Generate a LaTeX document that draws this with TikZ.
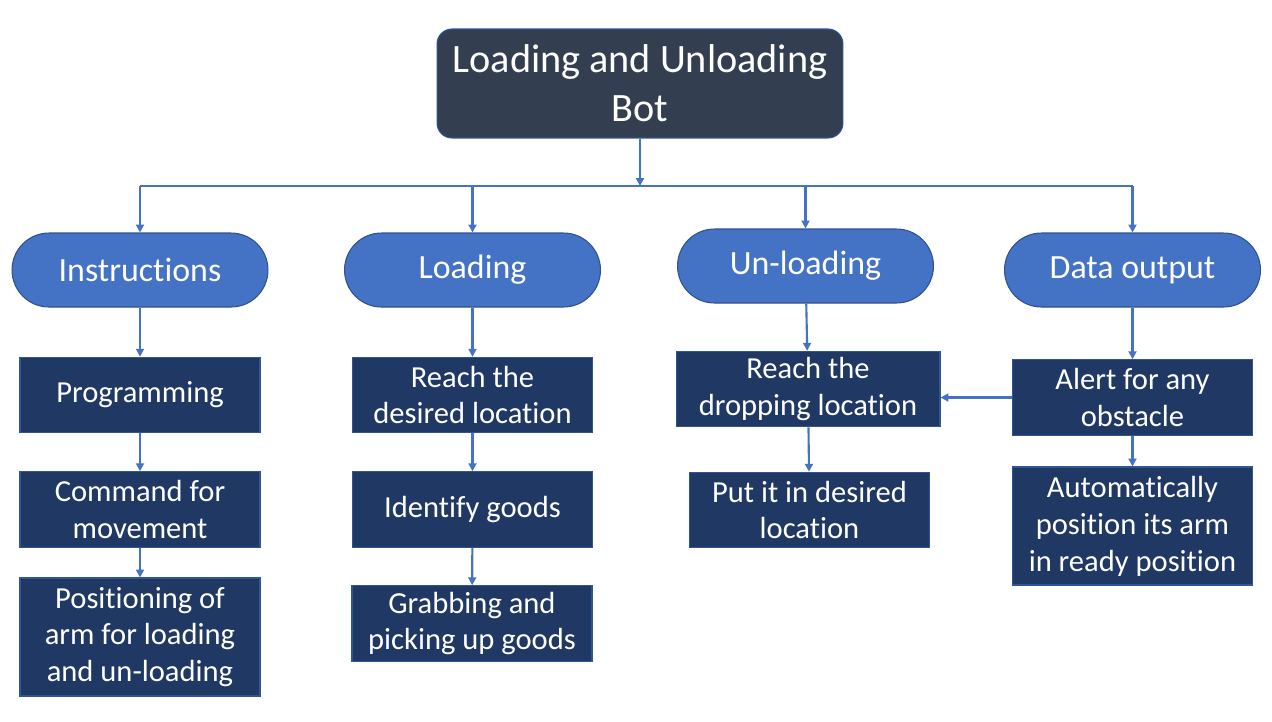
\documentclass[tikz,border=0pt]{standalone}
\usepackage{fontspec}
\setmainfont{Carlito}[Ligatures=NoCommon]
\usetikzlibrary{arrows.meta,positioning}

\definecolor{botfill}{HTML}{333F50}
\definecolor{pillfill}{HTML}{4472C4}
\definecolor{edgeblue}{HTML}{2F528F}
\definecolor{boxfill}{HTML}{203864}
\definecolor{boxedge}{HTML}{2F5597}
\definecolor{linkblue}{HTML}{4472C4}

\begin{document}
\begin{tikzpicture}[x=0.02cm,y=-0.02cm,
    topbox/.style={draw=edgeblue,line width=0.6pt,fill=botfill,rounded corners=0.3cm,
      text=white,align=center,minimum width=8.12cm,minimum height=2.18cm,
      font=\fontsize{22.9}{28}\selectfont},
    pill/.style={draw=edgeblue,line width=0.6pt,fill=pillfill,rounded corners=0.74cm,
      text=white,align=center,minimum width=5.12cm,minimum height=1.48cm,
      font=\fontsize{19.3}{22}\selectfont},
    task/.style={draw=boxedge,line width=0.6pt,fill=boxfill,text=white,align=center,
      minimum width=4.8cm,minimum height=1.51cm,inner sep=0pt,
      font=\fontsize{17.4}{21}\selectfont},
    link/.style={draw=linkblue,line width=1.2pt},
    arr/.style={link,-{Triangle[length=4.5pt,width=4.5pt]}}]
        \useasboundingbox (0,0) rectangle (1272,721);
        \node[topbox] (bot) at (640,83.5) {Loading and Unloading\\Bot};
        \coordinate (bus) at (640,186);
        % second level
        \node[pill] (instr)  at (140,270)    {Instructions};
        \node[pill] (load)   at (472.5,270)  {Loading};
        \node[pill] (unload) at (805.5,266)  {Un-loading};
        \node[pill] (data)   at (1132.5,270) {Data output};
        % tasks
        \node[task] (prog)  at (140,395)    {Programming};
        \node[task] (cmd)   at (140,509.5)  {Command for\\movement};
        \node[task,minimum height=2.36cm] (pos) at (140,637) {Positioning of\\arm for loading\\and un-loading};
        \node[task] (reach) at (472.5,395)  {Reach the\\desired location};
        \node[task] (ident) at (472.5,509.5) {Identify goods};
        \node[task] (grab)  at (472,623.5)  {Grabbing and\\picking up goods};
        \node[task,minimum width=5.28cm] (drop) at (808,389) {Reach the\\dropping location};
        \node[task] (put)   at (809.5,510)  {Put it in desired\\location};
        \node[task] (alert) at (1132.5,397.5) {Alert for any\\obstacle};
        \node[task,minimum height=2.36cm] (auto) at (1132.5,526) {Automatically\\position its arm\\in ready position};
        % connectors
        \draw[arr] (bot) -- (bus);
        \draw[link] (instr.north |- bus) -- (data.north |- bus);
        \foreach \p in {instr,load,unload,data}
          \draw[arr] (\p.north |- bus) -- (\p.north);
        \foreach \a/\b in {instr/prog,prog/cmd,cmd/pos,load/reach,reach/ident,ident/grab,
                           unload/drop,drop/put,data/alert,alert/auto}
          \draw[arr] (\a) -- (\b);
        \draw[arr] (alert.west) -- (drop.east |- alert.west);
\end{tikzpicture}
\end{document}
